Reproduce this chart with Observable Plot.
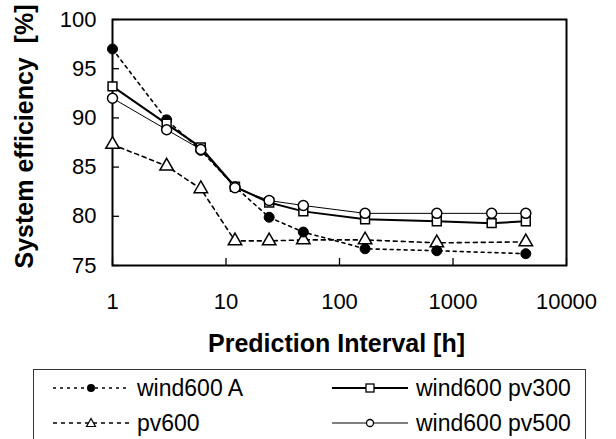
<!DOCTYPE html>
<html><head><meta charset="utf-8">
<script src="https://cdn.jsdelivr.net/npm/d3@7"></script>
<script src="https://cdn.jsdelivr.net/npm/@observablehq/plot@0.6"></script>
<style>
body{margin:0;background:#fff;font-family:"Liberation Sans",Arial,sans-serif;}
#wrap{position:relative;width:616px;height:439px;overflow:hidden;background:#fff;}
#legend{position:absolute;left:33px;top:369px;width:553px;height:90px;border:1px solid #333;box-sizing:border-box;}
#legend svg{display:block;}
</style></head><body><div id="wrap"><div id="chart"></div><div id="legend"></div></div>
<script>
// Data
const intervals = [1, 3, 6, 12, 24, 48, 168, 720, 2190, 4380];
const intervalsSparse = [1, 3, 6, 12, 24, 48, 168, 720, 4380];
const wind600A = [97.0, 89.8, 86.7, 83.0, 79.9, 78.4, 76.7, 76.5, 76.2];
const pv600 = [87.3, 85.1, 82.8, 77.5, 77.5, 77.6, 77.6, 77.3, 77.4];
const wind600pv300 = [93.2, 89.4, 87.0, 83.0, 81.4, 80.5, 79.7, 79.5, 79.3, 79.5];
const wind600pv500 = [92.0, 88.8, 86.8, 82.9, 81.6, 81.1, 80.3, 80.3, 80.3, 80.3];
const xTicks = [1, 10, 100, 1000, 10000];
const yTicks = [75, 80, 85, 90, 95, 100];
const seriesNames = ["wind600 A", "pv600", "wind600 pv300", "wind600 pv500"];
const xTitle = "Prediction Interval [h]";
const yTitle = "System efficiency\u00a0\u00a0[%]";

const rows = (xs, ys) => xs.map((x, i) => ({x, y: ys[i]}));
const dA = rows(intervalsSparse, wind600A);
const dPV = rows(intervalsSparse, pv600);
const d300 = rows(intervals, wind600pv300);
const d500 = rows(intervals, wind600pv500);

const W = 616, H = 360, mL = 112, mR = 50, mT = 19, mB = 95;
const frameH = H - mT - mB, frameW = W - mL - mR;
const font = "'Liberation Sans', Arial, sans-serif";

const chart = Plot.plot({
  width: W, height: H,
  marginLeft: mL, marginRight: mR, marginTop: mT, marginBottom: mB,
  style: {fontFamily: font, fontSize: "22px", background: "white", color: "black"},
  x: {type: "log", domain: [1, 10000]},
  y: {domain: [75, 100]},
  marks: [
    Plot.tickX(xTicks, {x: d => d, insetTop: frameH - 7, stroke: "black", strokeWidth: 1.3}),
    Plot.tickY(yTicks, {y: d => d, insetRight: frameW - 7, stroke: "black", strokeWidth: 1.3}),
    Plot.axisX({ticks: xTicks, tickSize: 0, tickPadding: 28, fontSize: 22, tickFormat: d => String(d), label: null}),
    Plot.axisY({ticks: yTicks, tickSize: 0, tickPadding: 16, fontSize: 22, tickFormat: d => String(d), label: null}),
    Plot.frame({stroke: "black", strokeWidth: 2}),
    Plot.line(dPV, {x: "x", y: "y", stroke: "black", strokeWidth: 1.6, strokeDasharray: "4,4"}),
    Plot.line(dA, {x: "x", y: "y", stroke: "black", strokeWidth: 1.6, strokeDasharray: "3,4"}),
    Plot.line(d300, {x: "x", y: "y", stroke: "black", strokeWidth: 2}),
    Plot.line(d500, {x: "x", y: "y", stroke: "black", strokeWidth: 1}),
    Plot.dot(dPV, {x: "x", y: "y", symbol: "triangle", r: 5, fill: "white", stroke: "black", strokeWidth: 1.5}),
    Plot.dot(dA, {x: "x", y: "y", symbol: "circle", r: 5, fill: "black", stroke: "black", strokeWidth: 1}),
    Plot.dot(d300, {x: "x", y: "y", symbol: "square", r: 5, fill: "white", stroke: "black", strokeWidth: 1.5}),
    Plot.dot(d500, {x: "x", y: "y", symbol: "circle", r: 5, fill: "white", stroke: "black", strokeWidth: 1.5}),
    Plot.text([yTitle], {text: d => d, frameAnchor: "left", textAnchor: "middle", lineAnchor: "middle", rotate: -90, dx: -88, dy: -6, fontWeight: "bold", fontSize: 25}),
    Plot.text([xTitle], {text: d => d, frameAnchor: "bottom", textAnchor: "middle", lineAnchor: "middle", dx: -3, dy: 78, fontWeight: "bold", fontSize: 25})
  ]
});
document.getElementById("chart").appendChild(chart);

// Legend (Excel-style box below the chart)
const ns = "http://www.w3.org/2000/svg";
const lg = document.createElementNS(ns, "svg");
lg.setAttribute("width", 551); lg.setAttribute("height", 88);
const items = [
  {name: seriesNames[0], col: 0, row: 0, dash: "3,4", sw: 1.6, marker: "fcircle"},
  {name: seriesNames[1], col: 0, row: 1, dash: "4,4", sw: 1.6, marker: "triangle"},
  {name: seriesNames[2], col: 1, row: 0, dash: null, sw: 2, marker: "square"},
  {name: seriesNames[3], col: 1, row: 1, dash: null, sw: 1, marker: "circle"}
];
const el = (tag, attrs) => { const e = document.createElementNS(ns, tag); for (const k in attrs) e.setAttribute(k, attrs[k]); lg.appendChild(e); return e; };
for (const it of items) {
  const x0 = it.col ? 298 : 19, cy = it.row ? 53 : 18, mx = x0 + 38;
  el("line", {x1: x0, x2: x0 + 76, y1: cy, y2: cy, stroke: "black", "stroke-width": it.sw, ...(it.dash ? {"stroke-dasharray": it.dash} : {})});
  if (it.marker === "fcircle") el("circle", {cx: mx, cy, r: 4, fill: "black"});
  if (it.marker === "circle") el("circle", {cx: mx, cy, r: 3.5, fill: "white", stroke: "black", "stroke-width": 1.3});
  if (it.marker === "square") el("rect", {x: mx - 4, y: cy - 4, width: 8, height: 8, fill: "white", stroke: "black", "stroke-width": 1.3});
  if (it.marker === "triangle") el("polygon", {points: `${mx},${cy - 4.5} ${mx - 4.5},${cy + 3.5} ${mx + 4.5},${cy + 3.5}`, fill: "white", stroke: "black", "stroke-width": 1.2});
  const t = el("text", {x: x0 + 84, y: cy, "dominant-baseline": "central", "font-size": 23, "font-family": font, fill: "black"});
  t.textContent = it.name;
}
document.getElementById("legend").appendChild(lg);
</script></body></html>
